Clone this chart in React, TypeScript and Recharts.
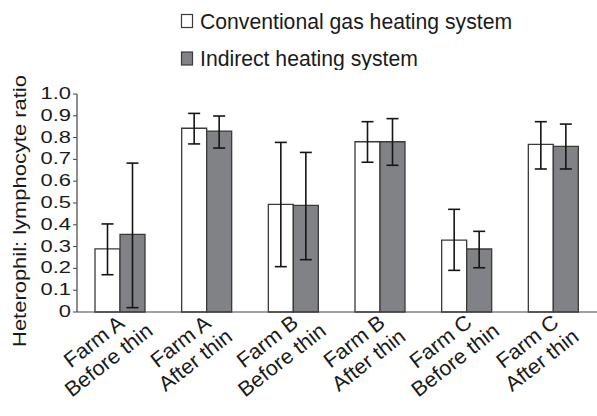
import React from "react";
import { BarChart, Bar, XAxis, YAxis, ErrorBar, Legend } from "recharts";

const farms = ["Farm A", "Farm A", "Farm B", "Farm B", "Farm C", "Farm C"];
const phases = ["Before thin", "After thin", "Before thin", "After thin", "Before thin", "After thin"];

const conventionalMean = [0.29, 0.843, 0.494, 0.781, 0.33, 0.769];
const conventionalLow = [0.171, 0.771, 0.208, 0.687, 0.191, 0.656];
const conventionalHigh = [0.404, 0.911, 0.778, 0.873, 0.471, 0.873];

const indirectMean = [0.356, 0.83, 0.489, 0.781, 0.289, 0.76];
const indirectLow = [0.02, 0.752, 0.24, 0.673, 0.203, 0.656];
const indirectHigh = [0.683, 0.899, 0.732, 0.887, 0.37, 0.862];

const yTicks = [0, 0.1, 0.2, 0.3, 0.4, 0.5, 0.6, 0.7, 0.8, 0.9, 1.0];
const yTickLabels = ["0", "0.1", "0.2", "0.3", "0.4", "0.5", "0.6", "0.7", "0.8", "0.9", "1.0"];

const seriesNames = ["Conventional gas heating system", "Indirect heating system"];

const data = farms.map((f, i) => ({
  cat: f + "|" + phases[i],
  conv: conventionalMean[i],
  convErr: [conventionalMean[i] - conventionalLow[i], conventionalHigh[i] - conventionalMean[i]],
  ind: indirectMean[i],
  indErr: [indirectMean[i] - indirectLow[i], indirectHigh[i] - indirectMean[i]],
}));

const FONT = "Arial, 'Liberation Sans', sans-serif";
const GRAY = "#818285";
const EDGE = "#3a3a3a";
const TEXT = "#1a1a1a";

const renderXTick = (props: any) => {
  const { x, y, payload } = props;
  const lines = String(payload.value).split("|");
  return (
    <g transform={`translate(${x - 22},${y + 35}) rotate(-38) scale(1.14,1.1)`}>
      <text x={0} y={0} textAnchor="middle" fontSize={19} fill={TEXT} fontFamily={FONT}>
        {lines[0]}
      </text>
      <text x={0} y={21.5} textAnchor="middle" fontSize={19} fill={TEXT} fontFamily={FONT}>
        {lines[1]}
      </text>
    </g>
  );
};

const renderYTick = (props: any) => {
  const { x, y, payload } = props;
  const idx = yTicks.findIndex((t) => Math.abs(t - payload.value) < 1e-6);
  return (
    <g transform={`translate(${x},${y}) scale(1.29,1)`}>
      <text x={0} y={5} textAnchor="end" fontSize={17} fill={TEXT} fontFamily={FONT}>
        {idx >= 0 ? yTickLabels[idx] : payload.value}
      </text>
    </g>
  );
};

const YLabel = () => (
  <g transform="translate(20,211) rotate(-90) scale(1.24,1)">
    <text x={0} y={6} textAnchor="middle" fontSize={17.7} fill={TEXT} fontFamily={FONT}>
      Heterophil: lymphocyte ratio
    </text>
  </g>
);

const LegendContent = () => (
  <svg width={597} height={70} style={{ display: "block" }}>
    <rect x={181.5} y={14.5} width={11} height={13} fill="#ffffff" stroke={EDGE} strokeWidth={1.2} />
    <text x={200} y={29} fontSize={21.2} fill={TEXT} fontFamily={FONT}>
      {seriesNames[0]}
    </text>
    <rect x={181.5} y={52} width={11} height={13} fill={GRAY} stroke={EDGE} strokeWidth={1.2} />
    <text x={200} y={65.5} fontSize={21.2} fill={TEXT} fontFamily={FONT}>
      {seriesNames[1]}
    </text>
  </svg>
);

export default function App() {
  return (
    <div style={{ position: "absolute", left: 0, top: 0, width: 597, height: 416, background: "#fff" }}>
      <BarChart
        width={597}
        height={416}
        data={data}
        margin={{ top: 24, right: 0, left: 0, bottom: 0 }}
        barGap={0}
        style={{ fontFamily: FONT }}
      >
        <Legend
          verticalAlign="top"
          content={<LegendContent />}
          wrapperStyle={{ position: "absolute", top: 0, left: 0, width: 597, height: 70 }}
        />
        <XAxis
          dataKey="cat"
          height={104}
          tickLine={false}
          tickSize={0}
          tickMargin={0}
          axisLine={{ stroke: "#444", strokeWidth: 1.2 }}
          tick={renderXTick}
          interval={0}
        />
        <YAxis
          width={77}
          domain={[0, 1]}
          ticks={yTicks}
          tickSize={4}
          tickMargin={2}
          axisLine={{ stroke: "#444", strokeWidth: 1.2 }}
          tickLine={{ stroke: "#444", strokeWidth: 1 }}
          tick={renderYTick}
          interval={0}
          label={{ content: <YLabel /> }}
        />
        <Bar dataKey="conv" name={seriesNames[0]} fill="#ffffff" stroke={EDGE} strokeWidth={1.3} barSize={25} isAnimationActive={false}>
          <ErrorBar dataKey="convErr" width={6} stroke="#151515" strokeWidth={1.6} />
        </Bar>
        <Bar dataKey="ind" name={seriesNames[1]} fill={GRAY} stroke={EDGE} strokeWidth={1.3} barSize={25} isAnimationActive={false}>
          <ErrorBar dataKey="indErr" width={6} stroke="#151515" strokeWidth={1.6} />
        </Bar>
      </BarChart>
    </div>
  );
}
